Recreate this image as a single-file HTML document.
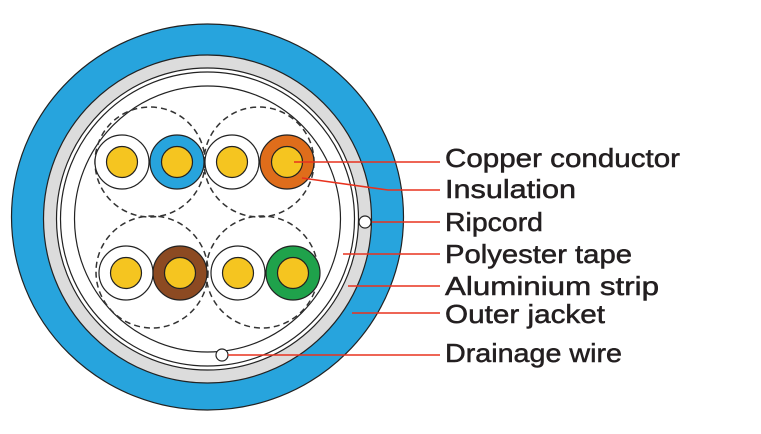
<!DOCTYPE html>
<html><head><meta charset="utf-8"><style>
html,body{margin:0;padding:0;background:#fff;width:761px;height:434px;overflow:hidden}
text{font-family:"Liberation Sans",sans-serif;font-size:26px;fill:#231f20;stroke:#231f20;stroke-width:0.5}
</style></head><body>
<svg width="761" height="434" viewBox="0 0 761 434" xmlns="http://www.w3.org/2000/svg">
<ellipse cx="207.5" cy="217" rx="196" ry="193" fill="#27a4dd" stroke="#222" stroke-width="1.2"/>
<circle cx="207.5" cy="219" r="164" fill="#dcdcdc" stroke="#222" stroke-width="1.2"/>
<circle cx="207.5" cy="219" r="151" fill="#fff" stroke="#222" stroke-width="1.2"/>
<circle cx="207.5" cy="219" r="147" fill="none" stroke="#222" stroke-width="1.2"/>
<circle cx="207.5" cy="219" r="133" fill="none" stroke="#222" stroke-width="1.2"/>
<g fill="none" stroke="#333" stroke-width="1.5" stroke-dasharray="6,4">
<circle cx="150" cy="162" r="55"/><circle cx="259" cy="162" r="55"/>
<circle cx="152" cy="272" r="56"/><circle cx="262" cy="272" r="56"/>
</g>
<g stroke="#222" stroke-width="1.2">
<circle cx="122" cy="162" r="27" fill="#fff"/><circle cx="122" cy="162" r="15.5" fill="#f5c520"/>
<circle cx="177" cy="162" r="27" fill="#27a4dd"/><circle cx="177" cy="162" r="15.5" fill="#f5c520"/>
<circle cx="232" cy="162" r="27" fill="#fff"/><circle cx="232" cy="162" r="15.5" fill="#f5c520"/>
<circle cx="287" cy="162" r="27" fill="#df6d1b"/><circle cx="287" cy="162" r="15.5" fill="#f5c520"/>
<circle cx="126" cy="273" r="27" fill="#fff"/><circle cx="126" cy="273" r="15.5" fill="#f5c520"/>
<circle cx="180" cy="273" r="27" fill="#8c4a22"/><circle cx="180" cy="273" r="15.5" fill="#f5c520"/>
<circle cx="238" cy="273" r="27" fill="#fff"/><circle cx="238" cy="273" r="15.5" fill="#f5c520"/>
<circle cx="293" cy="273" r="27" fill="#1fa24b"/><circle cx="293" cy="273" r="15.5" fill="#f5c520"/>
<circle cx="365" cy="222" r="6" fill="#fff"/>
<circle cx="222" cy="355" r="6" fill="#fff"/>
</g>
<g stroke="#e8321e" stroke-width="1.6" fill="none">
<line x1="294" y1="162" x2="440" y2="162"/>
<polyline points="302,178 388,190 440,190"/>
<line x1="372" y1="222" x2="440" y2="222"/>
<line x1="343" y1="254" x2="440" y2="254"/>
<line x1="348" y1="286" x2="440" y2="286"/>
<line x1="352" y1="313" x2="440" y2="313"/>
<line x1="228" y1="355" x2="440" y2="355"/>
</g>
<text x="445" y="167" textLength="235" lengthAdjust="spacingAndGlyphs">Copper conductor</text>
<text x="445" y="198" textLength="131" lengthAdjust="spacingAndGlyphs">Insulation</text>
<text x="445" y="231" textLength="98" lengthAdjust="spacingAndGlyphs">Ripcord</text>
<text x="445" y="263" textLength="187" lengthAdjust="spacingAndGlyphs">Polyester tape</text>
<text x="445" y="295" textLength="214" lengthAdjust="spacingAndGlyphs">Aluminium strip</text>
<text x="445" y="323" textLength="160" lengthAdjust="spacingAndGlyphs">Outer jacket</text>
<text x="445" y="362" textLength="177" lengthAdjust="spacingAndGlyphs">Drainage wire</text>
</svg>
</body></html>
